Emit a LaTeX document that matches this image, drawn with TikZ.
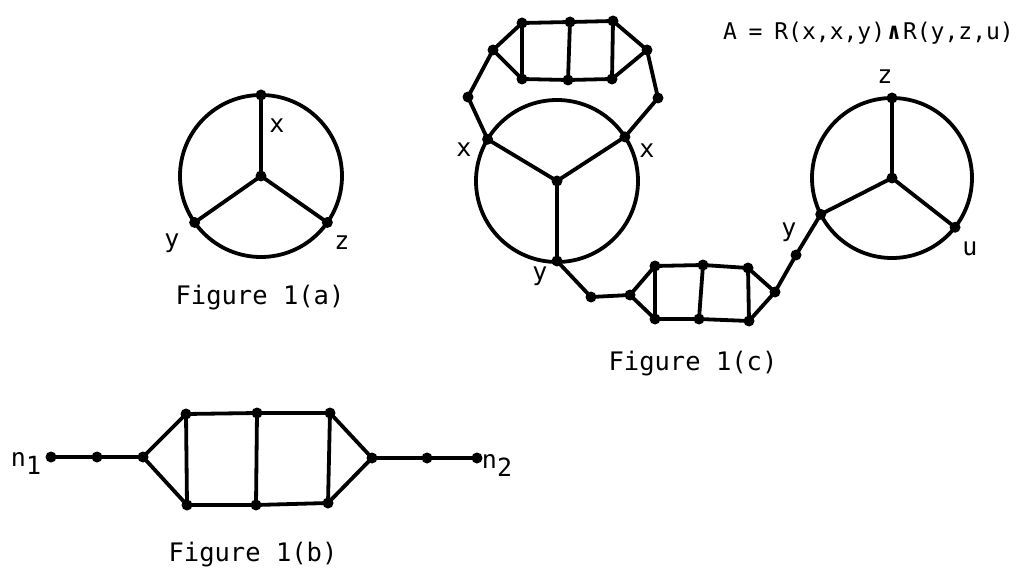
\documentclass[tikz,border=0pt]{standalone}
\usepackage{fontspec}
\setmonofont{DejaVu Sans Mono}
\usetikzlibrary{calc}
\begin{document}
\begin{tikzpicture}[x=1pt,y=-1pt,
  dot/.style={circle,fill=black,inner sep=0pt,minimum size=11pt},
  edge/.style={line width=3.8pt,line join=round,line cap=round},
  lbl/.style={font=\ttfamily\fontsize{25}{28}\selectfont,inner sep=0pt},
  figcap/.style={font=\ttfamily\fontsize{25.5}{28}\selectfont,inner sep=0pt}]
\useasboundingbox (0,0) rectangle (1021,575);

% ---------- Figure 1(a)
\coordinate (ac) at (261,176);
\draw[edge] (ac) circle[radius=81];
\node[dot] (ao) at (ac) {};
\node[dot] (ax) at ($(ac)+(-90:81)$) {};
\node[dot] (ay) at ($(ac)+(145:81)$) {};
\node[dot] (az) at ($(ac)+(35:81)$) {};
\draw[edge] (ao.center) -- (ax.center) (ao.center) -- (ay.center) (ao.center) -- (az.center);
\node[lbl] (lax) at (277,126) {x};
\node[lbl] (lay) at (172,243) {y};
\node[lbl] (laz) at (342,243) {z};
\node[figcap] (capa) at (260,298) {Figure 1(a)};

% ---------- Figure 1(b)
\node[dot] (b1) at (51,457) {};
\node[dot] (b2) at (97,457) {};
\node[dot] (bl) at (143,457) {};
\node[dot] (btl) at (186,414) {};
\node[dot] (btm) at (257,413) {};
\node[dot] (btr) at (330,413) {};
\node[dot] (bbl) at (187,505) {};
\node[dot] (bbm) at (256,505) {};
\node[dot] (bbr) at (328,503) {};
\node[dot] (br) at (372,458) {};
\node[dot] (b3) at (427,458) {};
\node[dot] (b4) at (477,458) {};
\draw[edge] (b1.center) -- (b2.center) -- (bl.center) -- (btl.center) -- (btm.center) -- (btr.center) -- (br.center)
  -- (bbr.center) -- (bbm.center) -- (bbl.center) -- (bl.center);
\draw[edge] (btl.center) -- (bbl.center) (btm.center) -- (bbm.center) (btr.center) -- (bbr.center);
\draw[edge] (br.center) -- (b3.center) -- (b4.center);
\node[lbl] (ln1) at (26,463) {n\raisebox{-8pt}{1}};
\node[lbl] (ln2) at (497,465) {n\raisebox{-8pt}{2}};
\node[figcap] (capb) at (253,555) {Figure 1(b)};

% ---------- Figure 1(c): left circle
\coordinate (cc) at (557,181);
\draw[edge] (cc) circle[radius=81];
\node[dot] (co) at (cc) {};
\node[dot] (cx1) at ($(cc)+(211:81)$) {};
\node[dot] (cx2) at ($(cc)+(-33:81)$) {};
\node[dot] (cy) at ($(cc)+(90:80)$) {};
\draw[edge] (co.center) -- (cx1.center) (co.center) -- (cx2.center) (co.center) -- (cy.center);
\node[lbl] (lcx1) at (464,150) {x};
\node[lbl] (lcx2) at (647,151) {x};
\node[lbl] (lcy) at (540,276) {y};

% top ladder
\node[dot] (t1) at (468,97) {};
\node[dot] (tl) at (493,50) {};
\node[dot] (ttl) at (522,23) {};
\node[dot] (ttm) at (570,22) {};
\node[dot] (ttr) at (613,21) {};
\node[dot] (tbl) at (522,79) {};
\node[dot] (tbm) at (568,80) {};
\node[dot] (tbr) at (612,79) {};
\node[dot] (tr) at (647,50) {};
\node[dot] (t2) at (658,98) {};
\draw[edge] (cx1.center) -- (t1.center) -- (tl.center) -- (ttl.center) -- (ttm.center) -- (ttr.center) -- (tr.center)
  -- (tbr.center) -- (tbm.center) -- (tbl.center) -- (tl.center);
\draw[edge] (ttl.center) -- (tbl.center) (ttm.center) -- (tbm.center) (ttr.center) -- (tbr.center);
\draw[edge] (tr.center) -- (t2.center) -- (cx2.center);

% bottom ladder
\node[dot] (m1) at (591,297) {};
\node[dot] (ml) at (630,295) {};
\node[dot] (mtl) at (655,266) {};
\node[dot] (mtm) at (703,265) {};
\node[dot] (mtr) at (748,268) {};
\node[dot] (mbl) at (655,319) {};
\node[dot] (mbm) at (699,319) {};
\node[dot] (mbr) at (749,321) {};
\node[dot] (mr) at (775,292) {};
\node[dot] (m2) at (796,255) {};
\draw[edge] (cy.center) -- (m1.center) -- (ml.center) -- (mtl.center) -- (mtm.center) -- (mtr.center) -- (mr.center)
  -- (mbr.center) -- (mbm.center) -- (mbl.center) -- (ml.center);
\draw[edge] (mtl.center) -- (mbl.center) (mtm.center) -- (mbm.center) (mtr.center) -- (mbr.center);

% right circle
\coordinate (rc) at (892,178);
\draw[edge] (rc) circle[radius=80];
\node[dot] (ro) at (rc) {};
\node[dot] (rz) at ($(rc)+(-90:80)$) {};
\node[dot] (ry) at ($(rc)+(153:80)$) {};
\node[dot] (ru) at ($(rc)+(38:80)$) {};
\draw[edge] (ro.center) -- (rz.center) (ro.center) -- (ry.center) (ro.center) -- (ru.center);
\draw[edge] (mr.center) -- (m2.center) -- (ry.center);
\node[lbl] (lrz) at (885,77) {z};
\node[lbl] (lry) at (789,232) {y};
\node[lbl] (lru) at (970,249) {u};

\node[figcap] (capc) at (693,364) {Figure 1(c)};
\node[lbl,anchor=east,font=\ttfamily\fontsize{23}{26}\selectfont] (formula) at (1014,33)
  {A\kern-2pt{} = \kern-2pt R(x,x,y)\kern2pt{\bfseries ∧}\kern2pt R(y,z,u)};
\end{tikzpicture}
\end{document}
